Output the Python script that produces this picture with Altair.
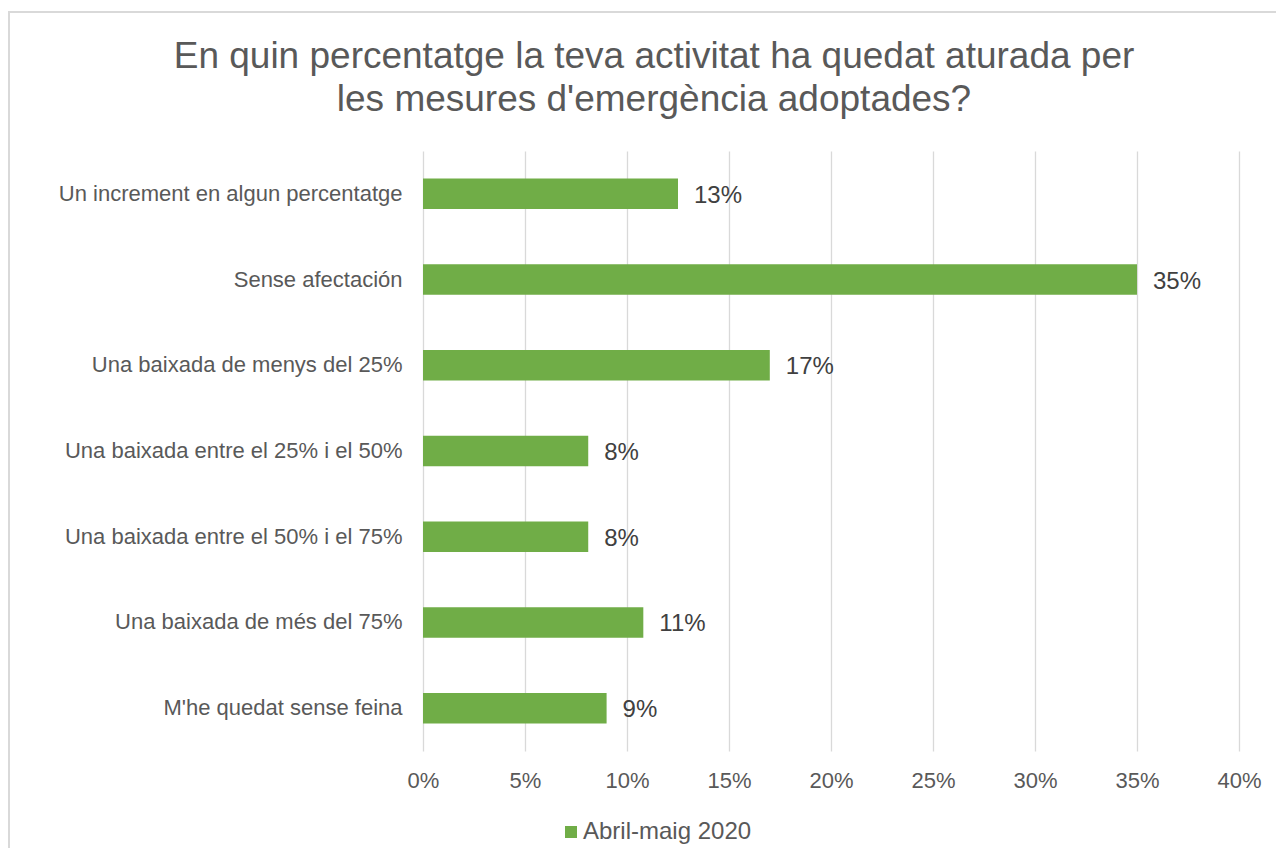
import altair as alt
import pandas as pd

categories = [
    "Un increment en algun percentatge",
    "Sense afectación",
    "Una baixada de menys del 25%",
    "Una baixada entre el 25% i el 50%",
    "Una baixada entre el 50% i el 75%",
    "Una baixada de més del 75%",
    "M'he quedat sense feina",
]
values = [12.5, 35.0, 17.0, 8.1, 8.1, 10.8, 9.0]
series_name = "Abril-maig 2020"
x_ticks = [0, 5, 10, 15, 20, 25, 30, 35, 40]
title_lines = [
    "En quin percentatge la teva activitat ha quedat aturada per",
    "les mesures d'emergència adoptades?",
]

FONT = "Liberation Sans"
GREEN = "#70AD47"
GRAY = "#595959"

df = pd.DataFrame({"cat": categories, "val": values, "serie": [series_name] * len(categories)})

base = alt.Chart(df).transform_calculate(
    label="round(datum.val) + '%'"
).encode(
    y=alt.Y(
        "cat:N",
        sort=categories,
        title=None,
        scale=alt.Scale(paddingInner=0.644, paddingOuter=0.322),
        axis=alt.Axis(
            domain=False, ticks=False, tickSize=0, grid=False,
            labelFont=FONT, labelFontSize=22, labelColor=GRAY,
            labelPadding=21, labelLimit=500,
        ),
    )
)

bars = base.mark_bar().encode(
    x=alt.X(
        "val:Q",
        title=None,
        scale=alt.Scale(domain=[0, 40], nice=False),
        axis=alt.Axis(
            values=x_ticks, labelExpr="datum.value + '%'",
            domain=False, ticks=False, tickSize=0, labelFlush=False,
            grid=True, gridColor="#d9d9d9", gridWidth=1.3,
            labelFont=FONT, labelFontSize=22, labelColor=GRAY,
            labelPadding=19,
        ),
    ),
    color=alt.Color(
        "serie:N",
        scale=alt.Scale(range=[GREEN]),
        legend=alt.Legend(
            title=None, orient="none", legendX=136, legendY=669,
            symbolType="square", symbolSize=144, symbolStrokeWidth=0,
            labelFont=FONT, labelFontSize=24, labelColor=GRAY,
            labelOffset=0, padding=0, labelLimit=400,
        ),
    ),
)

text = base.mark_text(
    align="left", baseline="middle", dx=16, dy=2, font=FONT, fontSize=24, color="#404040"
).encode(
    x=alt.X("val:Q"),
    text="label:N",
)

frame = alt.Chart(pd.DataFrame({"a": [0]})).mark_rect(
    fill=None, stroke="#d9d9d9", strokeWidth=2
).encode(
    x=alt.value(-414), x2=alt.value(3000), y=alt.value(-139), y2=alt.value(3000)
)

chart = alt.layer(frame, bars, text).properties(
    width=816,
    height=600,
    padding={"left": 415, "top": 143, "right": 37, "bottom": 97},
    autosize=alt.AutoSizeParams(type="none"),
    title=alt.TitleParams(
        text=title_lines, font=FONT, fontSize=37, fontWeight="normal",
        color=GRAY, anchor="middle", frame="group", dx=-177, offset=-145,
        baseline="bottom", lineHeight=43,
    ),
).configure_view(stroke=None)

chart.save("out.html", embed_options={"renderer": "svg", "actions": False})
